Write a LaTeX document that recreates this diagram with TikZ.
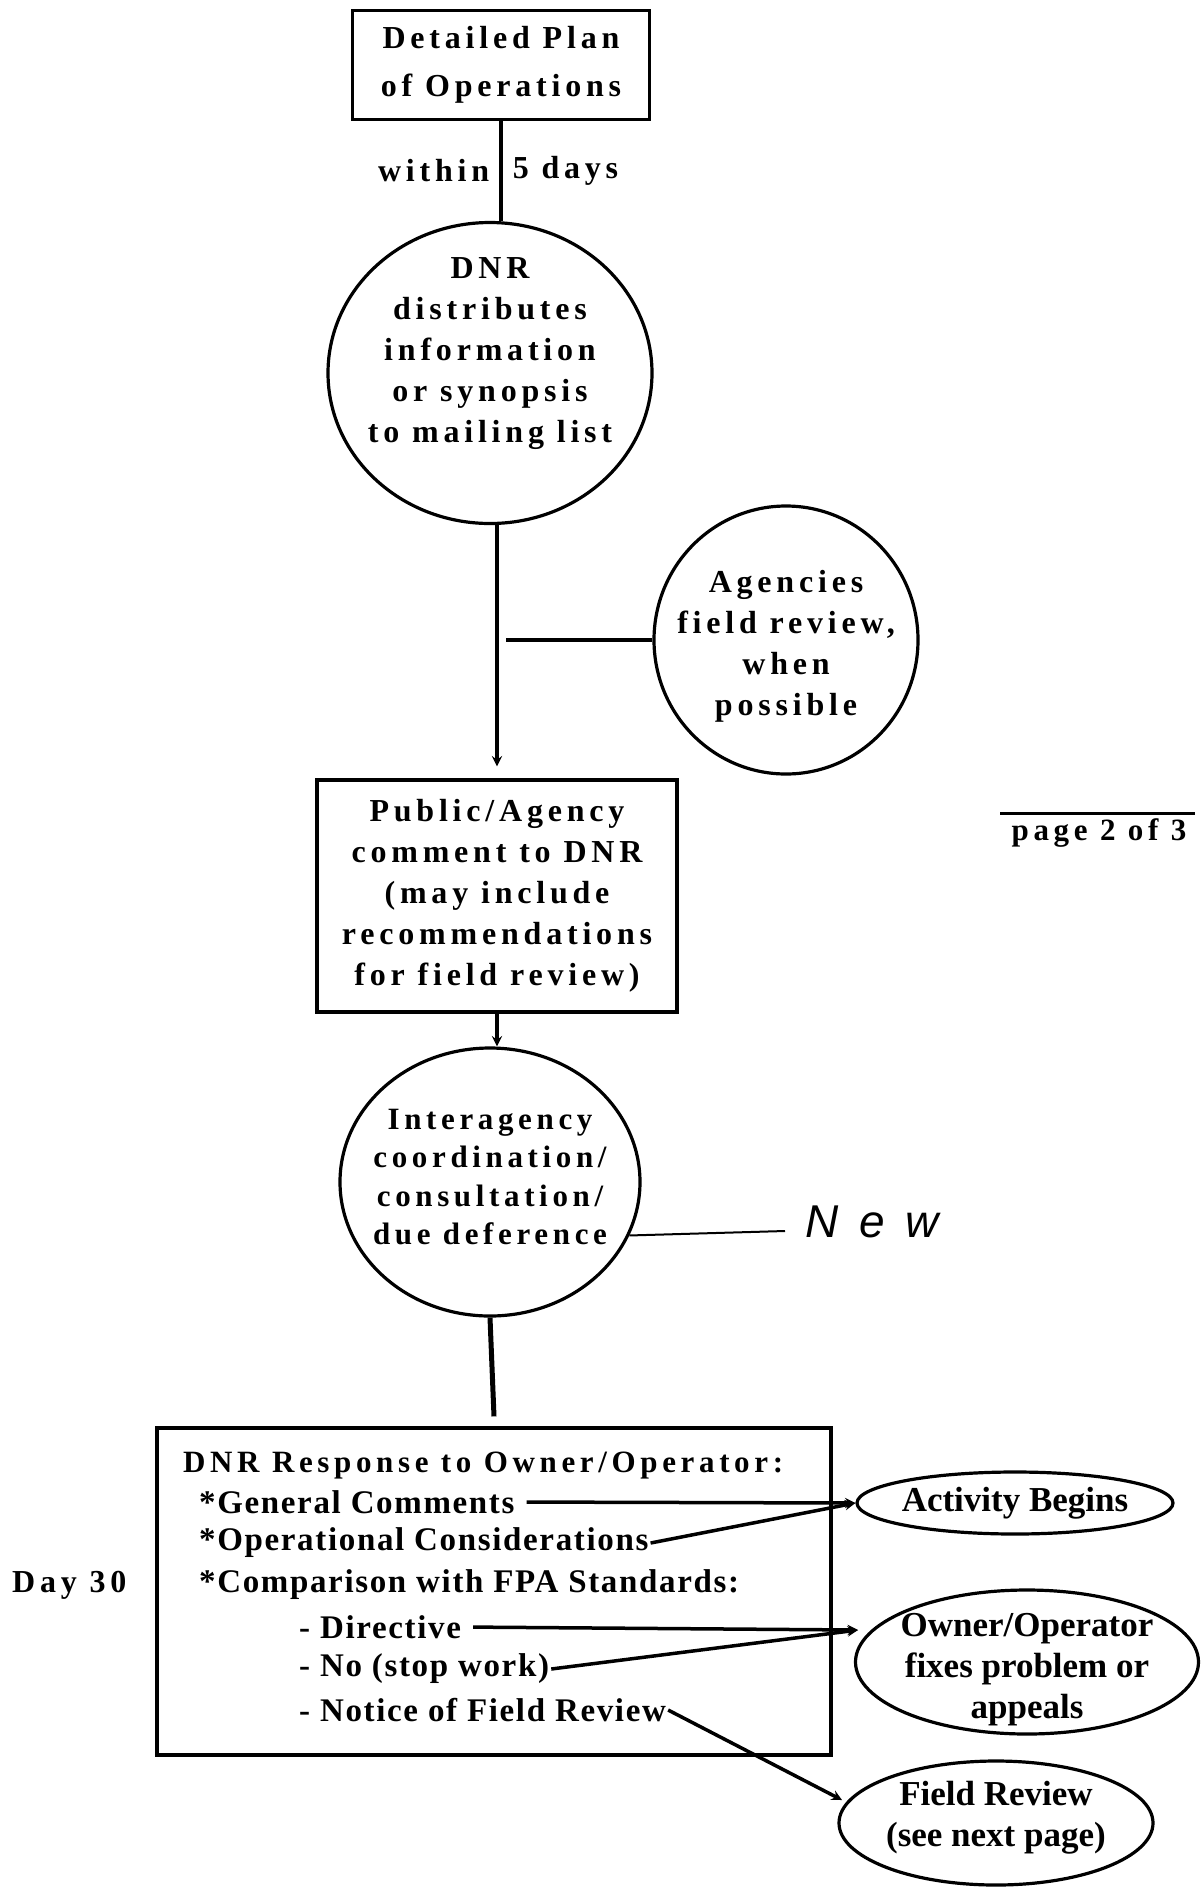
\documentclass[tikz,border=0pt]{standalone}
\usepackage{fontspec}
\setmainfont{Liberation Serif}
\newfontfamily\spaced[LetterSpace=15]{Liberation Serif}
\newfontfamily\lightspaced[LetterSpace=5]{Liberation Serif}
\newfontfamily\handfont[LetterSpace=45]{Liberation Sans}
\usetikzlibrary{shapes.geometric,arrows,positioning,calc}

\tikzset{
  box/.style={rectangle, draw=black, line width=3.2pt, inner sep=0pt},
  disc/.style={ellipse, draw=black, line width=3.2pt, inner sep=0pt},
  label32/.style={font=\spaced\bfseries\fontsize{32}{41}\selectfont, align=center, inner sep=2pt},
  listitem/.style={anchor=west, inner sep=2pt, font=\lightspaced\bfseries\fontsize{33}{40}\selectfont},
  ovaltext/.style={align=center, inner sep=0pt, font=\bfseries\fontsize{35}{41}\selectfont},
  link/.style={line width=3.5pt},
  >=stealth
}

\begin{document}
\begin{tikzpicture}[x=1pt,y=-1pt]
\useasboundingbox (0,0) rectangle (1202,1888);

\node (plan) [box, minimum width=297pt, minimum height=109pt, label32, font=\spaced\bfseries\fontsize{32}{48}\selectfont] at (501,65) {Detailed Plan\\of Operations};

\node (distrib) [disc, minimum width=324pt, minimum height=301pt] at (490,373) {};
\node (distribtext) [label32] at (490,354) {DNR\\distributes\\information\\or synopsis\\to mailing list};

\node (agencies) [disc, minimum width=264pt, minimum height=268pt] at (786,640) {};
\node (agenciestext) [label32] at (786,646) {Agencies\\field review,\\when\\possible};

\node (public) [box, minimum width=360pt, minimum height=232pt, label32] at (497,896) {Public/Agency\\comment to DNR\\(may include\\recommendations\\for field review)};

\node (inter) [disc, minimum width=300pt, minimum height=268pt] at (490,1182) {};
\node (intertext) [label32, font=\spaced\bfseries\fontsize{31}{38.5}\selectfont] at (490,1177) {Interagency\\coordination/\\consultation/\\due deference};

\node (newnote) [anchor=west, inner sep=0pt, font=\handfont\itshape\fontsize{46}{46}\selectfont] at (805,1222) {New};

\node (resp) [box, minimum width=674pt, minimum height=327pt] at (494,1591.5) {};
\node (head) [listitem, font=\spaced\bfseries\fontsize{31}{40}\selectfont] at (181,1466) {DNR Response to Owner/Operator:};
\node (gen) [listitem] at (197,1502) {*General Comments};
\node (oper) [listitem] at (197,1543) {*Operational Considerations};
\node (cmp) [listitem] at (197,1585) {*Comparison with FPA Standards:};
\node (dir) [listitem] at (297,1627) {- Directive};
\node (nostop) [listitem] at (297,1669) {- No (stop work)};
\node (notice) [listitem] at (297,1710) {- Notice of Field Review};

\node (day) [label32, anchor=west] at (10,1585) {Day 30};

\node (begins) [disc, minimum width=316pt, minimum height=62pt] at (1015,1503) {};
\node (beginstext) [ovaltext] at (begins) {Activity Begins};
\node (fixes) [disc, minimum width=343pt, minimum height=144pt] at (1027,1662) {};
\node (fixestext) [ovaltext] at (1027,1670) {Owner/Operator\\fixes problem or\\appeals};
\node (fieldrev) [disc, minimum width=314pt, minimum height=124pt] at (996,1823) {};
\node (fieldrevtext) [ovaltext] at (996,1818) {Field Review\\(see next page)};

\node (pagenote) [label32, font=\spaced\bfseries\fontsize{31}{31}\selectfont] at (1099,833) {page 2 of 3};

\coordinate (tap) at (506,640);
\coordinate (fixin) at (858,1630);
\coordinate (fieldin) at (842,1800);

\draw [link] (plan.south) -- (plan.south |- distrib.north)
  node [pos=0.5, left=8pt, label32] (within) {within}
  node [pos=0.5, right=8pt, label32] (fivedays) {5 days};
\draw [link, ->] (distrib.south -| public.north) -- ([yshift=12pt]public.north);
\draw [link] (agencies.west) -- (tap);
\draw [link, ->] (public.south) -- (public.south |- inter.north);
\draw [line width=2pt] (inter.-21) -- ([xshift=-20pt,yshift=-9pt]newnote.west);
\draw [line width=5pt] (inter.south) -- ([yshift=10pt]resp.north);

\draw [link, ->, shorten <=10pt] (gen.east) -- (begins.west);
\draw [link, ->] (oper.east) -- (begins.west);
\draw [link, ->, shorten <=10pt] (dir.east) -- (fixin);
\draw [link, ->] (nostop.east) -- (fixin);
\draw [link, ->] (notice.east) -- (fieldin);

\draw [line width=3.5pt] ([xshift=-9pt,yshift=3pt]pagenote.north west) -- ([xshift=6pt,yshift=3pt]pagenote.north east);
\end{tikzpicture}
\end{document}
